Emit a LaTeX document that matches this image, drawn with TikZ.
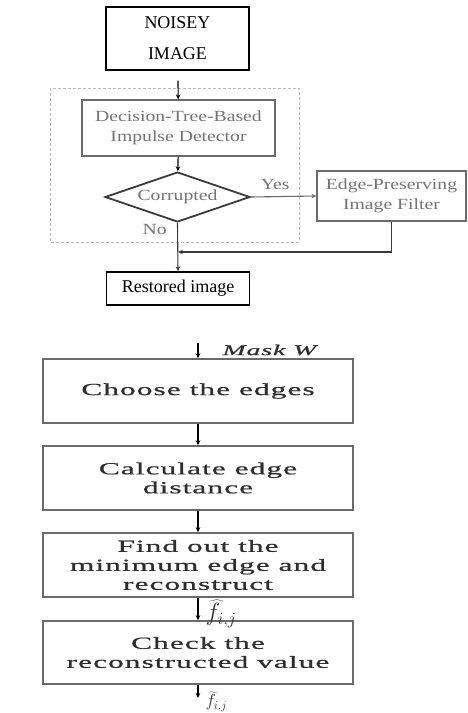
\documentclass[tikz,border=0pt]{standalone}
\usepackage{fontspec}
\setmainfont{Liberation Serif}
\newfontfamily\grayfont[FakeStretch=1.27]{Liberation Serif}
\newfontfamily\widefont[FakeStretch=1.85,LetterSpace=6,FakeBold=0.8]{Liberation Serif}
\usetikzlibrary{positioning,
	shapes.geometric,
	arrows.meta}
\definecolor{txtgray}{HTML}{737373}
\definecolor{boxgray}{HTML}{6A6A6A}
\definecolor{darkline}{HTML}{3A3A3A}
\definecolor{steptext}{HTML}{2E2E2E}
\tikzset{
	outbox/.style={draw, line width=1.4pt, minimum width=143pt, align=center, inner sep=0pt},
	graybox/.style={draw=boxgray, line width=1.2pt, align=center, inner sep=0pt, text=txtgray,
		font=\grayfont\fontsize{15.5}{20}\selectfont},
	stepbox/.style={draw=boxgray, line width=1.5pt, minimum width=310pt, minimum height=64pt,
		align=center, inner sep=0pt, text=steptext, font=\widefont\fontsize{17}{19}\selectfont},
	flow/.style={->, line width=1.1pt}
}

\begin{document}
\begin{tikzpicture}[x=1pt, y=-1pt, >={Stealth[length=5pt, width=4.5pt]}]
	\useasboundingbox (0,0) rectangle (468,713);
	% detector and filter part
	\draw[gray!55, densely dashed, line width=0.9pt] (50,88) rectangle (299,242);
	\node[outbox, minimum height=63pt, font=\fontsize{18}{31}\selectfont] (noisy) at (177.5,38.5) {NOISEY\\IMAGE};
	\node[graybox, minimum width=193pt, minimum height=56pt] (detector) at (178.5,128) {Decision-Tree-Based\\Impulse Detector};
	\node[diamond, draw=darkline, line width=1.8pt, aspect=2.9, inner sep=0pt, minimum width=145pt, minimum height=50pt,
		text=txtgray, font=\grayfont\fontsize{15.5}{20}\selectfont] (corrupt) at (177.5,197) {Corrupted};
	\node[graybox, minimum width=149pt, minimum height=50pt] (filter) at (391.5,196) {Edge-Preserving\\Image Filter};
	\node[outbox, minimum height=33pt, font=\fontsize{18}{20}\selectfont] (restored) at (178,288.5) {Restored image};
	\coordinate (merge) at (178,252);
	\draw[flow, shorten <=10pt] (noisy) -- (detector);
	\draw[flow] (detector) -- (corrupt);
	\draw[flow, boxgray] (corrupt.east) -- node[pos=0.37, above=3pt, text=txtgray, font=\grayfont\fontsize{15.5}{16}\selectfont] (yes) {Yes} (filter.west);
	\draw[flow, darkline] (corrupt.south) -- node[pos=0.14, left=7pt, text=txtgray, font=\grayfont\fontsize{15.5}{16}\selectfont] (no) {No} (restored.north);
	\draw[flow, darkline] (filter.south) |- (merge);

	% edge reconstruction steps
	\node[stepbox] (choose) at (198,391) {Choose the edges};
	\node[stepbox] (distance) at (198,478) {Calculate edge\\distance};
	\node[stepbox] (minedge) at (198,565) {Find out the\\minimum edge and\\reconstruct};
	\node[stepbox, minimum height=63pt] (check) at (198,652.5) {Check the\\reconstructed value};
	\coordinate (maskin) at (198,343);
	\coordinate (result) at (198,698);
	\node[anchor=west, text=steptext, font=\widefont\itshape\fontsize{15}{15}\selectfont] (mask) at (219,350) {Mask W};
	\node[anchor=west, text=steptext, font=\fontsize{25}{25}\selectfont] (fhat) at (202,614) {$\widehat{f}_{i,j}$};
	\node[anchor=north west, text=steptext, font=\fontsize{18}{18}\selectfont] (ftilde) at (202,688) {$\widetilde{f}_{i,j}$};
	\draw[flow] (maskin) -- (choose);
	\draw[flow] (choose) -- (distance);
	\draw[flow] (distance) -- (minedge);
	\draw[flow] (minedge) -- (check);
	\draw[flow] (check) -- (result);
\end{tikzpicture}
\end{document}
